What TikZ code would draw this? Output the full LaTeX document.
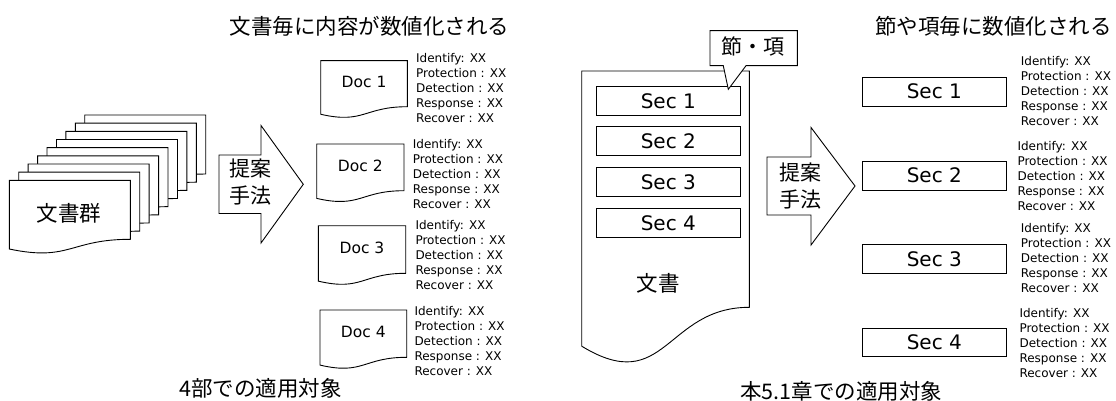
\documentclass[tikz,border=0pt]{standalone}
\usepackage{fontspec}
\setmainfont{DejaVu Sans}
\newfontfamily\cjk{Noto Sans CJK JP}
\usetikzlibrary{calc}

% flow-chart "document" outline: x, y (top left), width, height of the right edge
\newcommand\docshape[4]{%
  \pgfmathsetmacro\dsH{#4/0.802}%
  \pgfmathsetmacro\dsXm{#1+#3/2}%
  \pgfmathsetmacro\dsXr{#1+#3}%
  \pgfmathsetmacro\dsYr{#2+#4}%
  \pgfmathsetmacro\dsYc{#2+1.1075*\dsH}%
  \pgfmathsetmacro\dsYl{#2+0.934*\dsH}%
  \draw[docline] (#1,#2) -- (\dsXr,#2) -- (\dsXr,\dsYr)
    .. controls (\dsXm,\dsYr) and (\dsXm,\dsYc) .. (#1,\dsYl) -- cycle;}

% five score lines: name, x, y of first line centre
\newcommand\scorelist[3]{%
  \foreach \lbl [count=\k] in {Identify: XX,Protection : XX,Detection : XX,Response : XX,Recover : XX}
    \node[scoretxt] (#1-\k) at (#2,{#3+(\k-1)*15.1}) {\lbl};}

\tikzset{
  docline/.style={draw=black, line width=0.9pt, fill=white},
  scoretxt/.style={anchor=west, inner sep=0pt, font=\fontsize{12}{14}\selectfont,
    text height=8.6pt, text depth=0pt},
  doclabel/.style={inner sep=0pt, font=\fontsize{15.5}{18}\selectfont},
  secbox/.style={draw=black, line width=0.9pt, fill=white, minimum width=144pt,
    minimum height=28.6pt, inner sep=0pt, font=\fontsize{20}{24}\selectfont},
  jtext/.style={inner sep=0pt, font=\cjk\fontsize{21.5}{26}\selectfont},
  methodtxt/.style={inner sep=0pt, align=center, font=\cjk\fontsize{21}{26.7}\selectfont},
}

\begin{document}
\begin{tikzpicture}[x=1pt,y=-1pt]
\useasboundingbox (0,0) rectangle (1116,401);

% ---------- left panel: whole documents ----------
\node[jtext, anchor=west] (titleL) at (229.3,26.7) {文書毎に内容が数値化される};

% stack of documents, back to front
\foreach \i in {8,...,0}{
  \docshape{9.3+9.43*\i}{180.3-8.16*\i}{121}{59}
}
\node[jtext, font=\cjk\fontsize{21.5}{26}\selectfont] (group) at (69,213.3) {文書群};

% method arrow
\draw[docline] (219,155) -- (261,155) -- (261,125.5) -- (303.3,184.3)
  -- (261,243) -- (261,213.5) -- (219,213.5) -- cycle;
\node[methodtxt] (methodL) at (250.8,181.7) {提案\\手法};

% individual documents
\docshape{320.7}{60.7}{86.6}{46}
\docshape{316.7}{144}{87.3}{46.7}
\docshape{318.3}{225.7}{87.4}{47.6}
\docshape{320}{310}{86.7}{47.3}
\node[doclabel] (doc1) at (364,82.3) {Doc 1};
\node[doclabel] (doc2) at (360.3,166) {Doc 2};
\node[doclabel] (doc3) at (362,247.5) {Doc 3};
\node[doclabel] (doc4) at (363.3,331.5) {Doc 4};

\scorelist{sd1}{416}{58.3}
\scorelist{sd2}{412.7}{144}
\scorelist{sd3}{415.3}{224.7}
\scorelist{sd4}{414.3}{310.7}

\node[jtext, anchor=west] (captionL) at (179,388.3) {4部での適用対象};

% ---------- right panel: sections of one document ----------
\node[jtext, anchor=west] (titleR) at (875,26.7) {節や項毎に数値化される};

\docshape{581.7}{71}{167.6}{236.3}
\node[secbox] (in1) at (668.3,100.8) {Sec 1};
\node[secbox] (in2) at (668.3,141.2) {Sec 2};
\node[secbox] (in3) at (668.3,182.2) {Sec 3};
\node[secbox] (in4) at (668.3,223) {Sec 4};
\node[jtext] (docbody) at (658.3,283.3) {文書};

% callout naming the parts
\draw[docline] (710,30.7) -- (797.3,30.7) -- (797.3,65.7) -- (746,65.7)
  -- (728.3,89.3) -- (723.3,65.7) -- (710,65.7) -- cycle;
\node[jtext, font=\cjk\fontsize{21}{26}\selectfont] (parts) at (753,46.5) {節・項};

% method arrow
\draw[docline] (767,157) -- (811,157) -- (811,127.5) -- (855,186)
  -- (811,245) -- (811,215) -- (767,215) -- cycle;
\node[methodtxt] (methodR) at (800,186) {提案\\手法};

\node[secbox] (out1) at (934.3,91.7) {Sec 1};
\node[secbox] (out2) at (934.3,175.7) {Sec 2};
\node[secbox] (out3) at (934.3,258.8) {Sec 3};
\node[secbox] (out4) at (934.3,342.3) {Sec 4};

\scorelist{ss1}{1020.7}{61}
\scorelist{ss2}{1017.3}{145.7}
\scorelist{ss3}{1020.7}{227.7}
\scorelist{ss4}{1019.3}{312.7}

\node[jtext, anchor=west] (captionR) at (740,391) {本5.1章での適用対象};
\end{tikzpicture}
\end{document}
